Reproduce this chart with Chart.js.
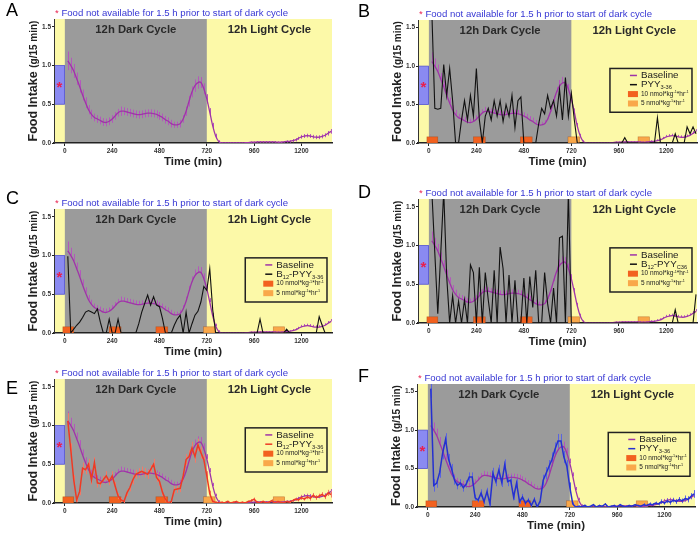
<!DOCTYPE html>
<html>
<head>
<meta charset="utf-8">
<script src="https://cdn.jsdelivr.net/npm/chart.js@4"></script>
<style>
  html, body { margin: 0; padding: 0; background: #fff; }
  #wrap { position: relative; width: 700px; height: 534px; }
  #wrap canvas { position: absolute; left: 0; top: 0; }
</style>
</head>
<body>
<div id="wrap">
  <canvas id="pA" width="700" height="534"></canvas>
  <canvas id="pB" width="700" height="534"></canvas>
  <canvas id="pC" width="700" height="534"></canvas>
  <canvas id="pD" width="700" height="534"></canvas>
  <canvas id="pE" width="700" height="534"></canvas>
  <canvas id="pF" width="700" height="534"></canvas>
</div>
<script>
// time bins (min) - 15 min food intake
const times = [
  15, 30, 45, 60, 75, 90, 105, 120, 135, 150,
  165, 180, 195, 210, 225, 240, 255, 270, 285, 300,
  315, 330, 345, 360, 375, 390, 405, 420, 435, 450,
  465, 480, 495, 510, 525, 540, 555, 570, 585, 600,
  615, 630, 645, 660, 675, 690, 705, 720, 735, 750,
  765, 780, 795, 810, 825, 840, 855, 870, 885, 900,
  915, 930, 945, 960, 975, 990, 1005, 1020, 1035, 1050,
  1065, 1080, 1095, 1110, 1125, 1140, 1155, 1170, 1185, 1200,
  1215, 1230, 1245, 1260, 1275, 1290, 1305, 1320, 1335, 1350
];

const baseline = [
  1.06, 1.00, 0.93, 0.83, 0.73, 0.62, 0.52, 0.43, 0.37, 0.33,
  0.31, 0.29, 0.27, 0.265, 0.28, 0.31, 0.35, 0.39, 0.41, 0.41,
  0.40, 0.39, 0.38, 0.37, 0.365, 0.37, 0.38, 0.385, 0.385, 0.38,
  0.37, 0.35, 0.33, 0.30, 0.28, 0.25, 0.235, 0.235, 0.25, 0.31,
  0.41, 0.54, 0.66, 0.74, 0.78, 0.78, 0.70, 0.57, 0.40, 0.22,
  0.09, 0.02, 0, 0, 0, 0, 0, 0, 0, 0,
  0.005, 0.005, 0.01, 0.01, 0.015, 0.015, 0.015, 0.015, 0.015, 0.015,
  0.015, 0.01, 0.01, 0.015, 0.02, 0.02, 0.03, 0.04, 0.06, 0.08,
  0.09, 0.095, 0.09, 0.08, 0.075, 0.075, 0.085, 0.10, 0.125, 0.15
];
const baselineErr = [
  0.12, 0.10, 0.09, 0.08, 0.08, 0.07, 0.07, 0.06, 0.06, 0.05,
  0.05, 0.05, 0.05, 0.05, 0.05, 0.05, 0.05, 0.05, 0.06, 0.05,
  0.05, 0.05, 0.05, 0.05, 0.05, 0.05, 0.05, 0.05, 0.05, 0.05,
  0.05, 0.05, 0.05, 0.05, 0.05, 0.05, 0.04, 0.04, 0.05, 0.05,
  0.06, 0.07, 0.07, 0.08, 0.08, 0.07, 0.07, 0.06, 0.05, 0.04,
  0.03, 0.015, 0.005, 0.005, 0.005, 0.005, 0.005, 0.005, 0.005, 0.005,
  0.005, 0.005, 0.01, 0.01, 0.01, 0.01, 0.01, 0.01, 0.01, 0.01,
  0.01, 0.01, 0.01, 0.01, 0.015, 0.015, 0.02, 0.02, 0.02, 0.025,
  0.025, 0.025, 0.025, 0.025, 0.025, 0.025, 0.025, 0.025, 0.03, 0.03
];

// B: PYY3-36
const pyyB = [
  1.7, 0.45, 0.44, 0.45, 1.02, 0.62, 0.97, 0.55, 0, 0,
  0.3, 0.55, 0.3, 0.62, 0.35, 0.97, 0.3, 0, 0.35, 0.45,
  0.3, 0.55, 0.35, 0.55, 0.28, 0.5, 0.35, 0.62, 0.2, 0.55,
  0.6, 0, 0, 0, 0, 0, 0.25, 0.45, 0.38, 0.62,
  0.45, 0.55, 0.35, 0.7, 0.3, 0.85, 0.35, 0.65, 0.3, 0,
  0, 0, 0, 0, 0, 0, 0, 0, 0, 0,
  0, 0, 0, 0, 0, 0.07, 0, 0, 0, 0,
  0, 0, 0, 0, 0, 0, 0.33, 0, 0, 0,
  0, 0, 0.12, 0, 0, 0, 0.21, 0.12, 0.21, 0.12
];
// C: B12-PYY3-36
const b12pyyC = [
  0.99, 0, 0.05, 0.1, 0.14, 0.2, 0.27, 0.29, 0.27, 0.25,
  0.31, 0.14, 0, 0, 0.18, 0, 0, 0.18, 0, 0,
  0, 0, 0, 0, 0.12, 0.27, 0.38, 0.49, 0.36, 0.47,
  0.36, 0.34, 0.19, 0, 0, 0, 0.1, 0.18, 0.23, 0,
  0.27, 0, 0.12, 0.23, 0.28, 0.40, 0.60, 0.55, 0.83, 0.30,
  0, 0, 0, 0, 0, 0, 0, 0, 0, 0,
  0, 0, 0, 0, 0, 0.18, 0, 0, 0, 0,
  0, 0, 0, 0, 0.05, 0, 0, 0, 0, 0,
  0, 0, 0, 0, 0, 0.21, 0.1, 0, 0, 0
];
// D: B12-PYYC36
const b12pyyC36D = [
  1.7, 0.9, 0.12, 0.9, 1.7, 0.6, 0, 0.35, 0, 0.28,
  0, 0.3, 0, 0.75, 0.65, 0, 0.72, 0, 0.65, 0.3,
  0, 0.68, 0, 0.98, 0.7, 0, 0.62, 0, 0.55, 0,
  0, 0.58, 0, 0.6, 0.2, 0.68, 0, 0, 0.65, 0.25,
  0, 0.45, 0, 1.1, 1.12, 0, 1.7, 0, 0, 0,
  0, 0, 0, 0, 0, 0, 0, 0, 0, 0,
  0, 0, 0, 0, 0, 0, 0, 0, 0, 0,
  0, 0, 0, 0, 0, 0, 0, 0, 0, 0,
  0, 0, 0.17, 0, 0, 0, 0, 0, 0, 0.37
];
// E: B12-PYY3-36 (mean +/- sem)
const b12pyyE = [
  1.06, 0.69, 0.3, 0.04, 0.15, 0.45, 0.43, 0.5, 0.3, 0.52,
  0.26, 0.25, 0.3, 0.35, 0.28, 0.35, 0.22, 0.09, 0.04, 0.02,
  0.13, 0.2, 0.3, 0.37, 0.39, 0.41, 0.39, 0.37, 0.43, 0.5,
  0.33, 0.28, 0.14, 0.05, 0, 0.02, 0.17, 0.18, 0.19, 0.35,
  0.56, 0.6, 0.71, 0.6, 0.75, 0.65, 0.56, 0.35, 0.12, 0.02,
  0.01, 0, 0.01, 0, 0.02, 0, 0.01, 0.02, 0, 0.01,
  0, 0.02, 0.03, 0.05, 0.01, 0, 0.02, 0, 0.01, 0.03,
  0, 0.02, 0.01, 0, 0.02, 0.01, 0.03, 0.05, 0.04, 0.07,
  0.05, 0.08, 0.06, 0.1, 0.07, 0.09, 0.11, 0.08, 0.13, 0.11
];
const b12pyyEErr = [
  0.1, 0.08, 0.06, 0.03, 0.05, 0.07, 0.06, 0.07, 0.06, 0.07,
  0.06, 0.05, 0.05, 0.06, 0.05, 0.06, 0.05, 0.04, 0.03, 0.02,
  0.04, 0.05, 0.06, 0.06, 0.06, 0.06, 0.06, 0.06, 0.06, 0.07,
  0.06, 0.06, 0.05, 0.03, 0.02, 0.02, 0.05, 0.05, 0.05, 0.06,
  0.07, 0.08, 0.08, 0.08, 0.08, 0.08, 0.07, 0.06, 0.04, 0.02,
  0.01, 0.01, 0.01, 0.01, 0.01, 0.01, 0.01, 0.01, 0.01, 0.01,
  0.01, 0.01, 0.02, 0.02, 0.01, 0.01, 0.01, 0.01, 0.01, 0.02,
  0.01, 0.01, 0.01, 0.01, 0.01, 0.01, 0.02, 0.02, 0.02, 0.03,
  0.02, 0.03, 0.03, 0.03, 0.03, 0.03, 0.03, 0.03, 0.04, 0.04
];
// F: PYY3-36 (mean +/- sem)
const pyyF = [
  1.54, 0.28, 0.31, 0.45, 0.7, 0.88, 0.62, 0.5, 0.35, 0.28,
  0.31, 0.25, 0.3, 0.39, 0.39, 0.12, 0.09, 0.18, 0.07, 0.2,
  0.04, 0.44, 0.33, 0.48, 0.32, 0.55, 0.33, 0.35, 0.13, 0.31,
  0.07, 0.13, 0.05, 0.09, 0.02, 0.1, 0, 0.08, 0.35, 0.44,
  0.53, 0.62, 0.75, 0.86, 0.86, 0.65, 0.53, 0.26, 0.04, 0,
  0.01, 0, 0.02, 0, 0.01, 0.03, 0, 0.02, 0.01, 0.04,
  0, 0.01, 0.02, 0, 0.03, 0.01, 0, 0.02, 0.01, 0.03,
  0.02, 0.01, 0.03, 0.02, 0.04, 0.03, 0.05, 0.04, 0.07, 0.05,
  0.08, 0.06, 0.09, 0.07, 0.1, 0.08, 0.11, 0.1, 0.14, 0.17
];
const pyyFErr = [
  0.12, 0.08, 0.06, 0.07, 0.08, 0.08, 0.07, 0.06, 0.06, 0.05,
  0.05, 0.05, 0.05, 0.06, 0.06, 0.04, 0.03, 0.05, 0.03, 0.05,
  0.02, 0.07, 0.06, 0.07, 0.06, 0.07, 0.06, 0.06, 0.04, 0.06,
  0.03, 0.04, 0.03, 0.03, 0.02, 0.03, 0.01, 0.03, 0.07, 0.08,
  0.08, 0.09, 0.09, 0.09, 0.09, 0.08, 0.08, 0.06, 0.02, 0.01,
  0.01, 0.01, 0.01, 0.01, 0.01, 0.01, 0.01, 0.01, 0.01, 0.01,
  0.01, 0.01, 0.01, 0.01, 0.01, 0.01, 0.01, 0.01, 0.01, 0.01,
  0.01, 0.01, 0.02, 0.01, 0.02, 0.02, 0.02, 0.02, 0.03, 0.02,
  0.03, 0.03, 0.03, 0.03, 0.03, 0.03, 0.04, 0.04, 0.04, 0.05
];

const xTicks = [0, 240, 480, 720, 960, 1200];
const yTicks = [0, 0.5, 1.0, 1.5];
const darkCycle = [0, 720];
const fastingBand = [0.5, 1.0];          // blue "food not available" box
const doseHigh = [[-10, 45], [225, 285], [462, 522]];   // 10 nmol/kg/hr
const doseLow = [[703, 762], [1057, 1115]];             // 5 nmol/kg/hr
const doseHeight = 0.08;

const FONT = '"Liberation Sans", Arial, Helvetica, sans-serif';
const COL = {
  yellow: '#fcf9a8', grey: '#9b9b9b', blue: '#8a8af2', blueEdge: '#5454d2',
  star: '#e8204e', note: '#3737d4', purple: '#9f34a8', purpleErr: '#b458bc',
  high: '#f2611f', low: '#f9a84a', text: '#222'
};
const Y_W = 20, X_H = 12;

const panels = [
  { id: 'A', area: [54, 19, 332, 143], letter: [6, 11], errBoth: true },
  { id: 'B', area: [418, 20, 697, 143], letter: [358, 12], series: pyyB,
    name: [['PYY', 0], ['3-36', 1]], color: '#111' },
  { id: 'C', area: [54, 209, 332, 333], letter: [6, 199], series: b12pyyC,
    name: [['B', 0], ['12', 1], ['-PYY', 0], ['3-36', 1]], color: '#111' },
  { id: 'D', area: [418, 199, 697, 323], letter: [358, 193], series: b12pyyC36D,
    name: [['B', 0], ['12', 1], ['-PYY', 0], ['C36', 1]], color: '#111' },
  { id: 'E', area: [54, 379, 332, 503], letter: [6, 389], series: b12pyyE, err: b12pyyEErr,
    name: [['B', 0], ['12', 1], ['-PYY', 0], ['3-36', 1]], color: '#ee3a24', errColor: '#f27a68', width: 1.5 },
  { id: 'F', area: [417, 384, 695, 507], letter: [358, 377], series: pyyF, err: pyyFErr,
    name: [['PYY', 0], ['3-36', 1]], color: '#2430d0', errColor: '#5a64e0', width: 1.5 }
];

// draw text made of parts: kind 0 normal, 1 subscript, 2 superscript
function drawRich(ctx, parts, x, y, size, weight, color) {
  let cx = x;
  ctx.fillStyle = color;
  ctx.textAlign = 'left';
  ctx.textBaseline = 'middle';
  for (const [t, k] of parts) {
    const s = k ? size * 0.58 : size;
    ctx.font = `${weight} ${s}px ${FONT}`;
    const dy = k === 1 ? size * 0.3 : (k === 2 ? -size * 0.32 : 0);
    ctx.fillText(t, cx, y + dy);
    cx += ctx.measureText(t).width;
  }
  return cx - x;
}

function drawErrors(ctx, xs, ys, vals, errs, color, both) {
  ctx.strokeStyle = color;
  ctx.lineWidth = 1;
  ctx.beginPath();
  vals.forEach((v, i) => {
    const px = Math.round(xs.getPixelForValue(times[i])) + 0.5;
    ctx.moveTo(px, ys.getPixelForValue(v + errs[i]));
    ctx.lineTo(px, ys.getPixelForValue(both ? v - errs[i] : v));
  });
  ctx.stroke();
}

function panelPlugin(p) {
  return {
    id: 'panel' + p.id,
    beforeDraw(chart) {
      const { ctx, chartArea: a, scales: { x, y } } = chart;
      ctx.save();
      ctx.fillStyle = COL.yellow;
      ctx.fillRect(a.left, a.top, a.width, a.height);
      const x0 = x.getPixelForValue(darkCycle[0]), x1 = x.getPixelForValue(darkCycle[1]);
      ctx.fillStyle = COL.grey;
      ctx.fillRect(x0, a.top, x1 - x0, a.height);
      const yb1 = y.getPixelForValue(fastingBand[1]), yb0 = y.getPixelForValue(fastingBand[0]);
      ctx.fillStyle = COL.blue;
      ctx.fillRect(a.left, yb1, x0 - a.left, yb0 - yb1);
      ctx.strokeStyle = COL.blueEdge;
      ctx.lineWidth = 0.8;
      ctx.strokeRect(a.left + 0.4, yb1, x0 - a.left - 0.8, yb0 - yb1);
      ctx.fillStyle = COL.star;
      ctx.font = `bold 15px ${FONT}`;
      ctx.textAlign = 'center';
      ctx.textBaseline = 'middle';
      ctx.fillText('*', (a.left + x0) / 2, (yb0 + yb1) / 2 + 3);
      ctx.restore();
    },
    beforeDatasetsDraw(chart) {
      const { ctx, chartArea: a, scales: { x, y } } = chart;
      ctx.save();
      ctx.beginPath();
      ctx.rect(a.left, a.top, a.width, a.height);
      ctx.clip();
      if (p.series) {
        const yTop = y.getPixelForValue(doseHeight), yBot = y.getPixelForValue(0);
        const box = (r, c) => {
          const l = x.getPixelForValue(r[0]), rr = x.getPixelForValue(r[1]);
          ctx.fillStyle = c;
          ctx.fillRect(l, yTop, rr - l, yBot - yTop);
          ctx.strokeStyle = 'rgba(150,60,10,0.5)';
          ctx.lineWidth = 0.6;
          ctx.strokeRect(l, yTop, rr - l, yBot - yTop);
        };
        doseHigh.forEach(r => box(r, COL.high));
        doseLow.forEach(r => box(r, COL.low));
      }
      drawErrors(ctx, x, y, baseline, baselineErr, COL.purpleErr, !!p.errBoth);
      if (p.err) drawErrors(ctx, x, y, p.series, p.err, p.errColor, true);
      ctx.restore();
    },
    afterDraw(chart) {
      const { ctx, chartArea: a, scales: { x, y } } = chart;
      ctx.save();
      // cycle labels
      ctx.fillStyle = '#2a2a2a';
      ctx.font = `bold 11.3px ${FONT}`;
      ctx.textAlign = 'center';
      ctx.textBaseline = 'middle';
      ctx.fillText('12h Dark Cycle', x.getPixelForValue((darkCycle[0] + darkCycle[1]) / 2), a.top + 11);
      ctx.fillText('12h Light Cycle', (x.getPixelForValue(darkCycle[1]) + a.right) / 2, a.top + 11);
      // note above
      ctx.textAlign = 'left';
      ctx.font = `9.6px ${FONT}`;
      ctx.fillStyle = COL.star;
      ctx.fillText('*', a.left + 1, a.top - 6);
      const sw = ctx.measureText('* ').width;
      ctx.fillStyle = COL.note;
      ctx.fillText('Food not available for 1.5 h prior to start of dark cycle', a.left + 1 + sw, a.top - 6);
      // panel letter
      ctx.fillStyle = '#000';
      ctx.font = `18px ${FONT}`;
      ctx.fillText(p.id, p.letter[0], p.letter[1]);
      // x title
      ctx.textAlign = 'center';
      ctx.fillStyle = COL.text;
      ctx.font = `bold 11.5px ${FONT}`;
      ctx.fillText('Time (min)', (a.left + a.right) / 2, a.bottom + 19);
      // y title (rotated)
      ctx.save();
      ctx.translate(a.left - 20, (a.top + a.bottom) / 2);
      ctx.rotate(-Math.PI / 2);
      ctx.font = `bold 12.5px ${FONT}`;
      const w1 = ctx.measureText('Food Intake ').width;
      ctx.font = `bold 10px ${FONT}`;
      const w2 = ctx.measureText('(g/15 min)').width;
      ctx.textAlign = 'left';
      ctx.font = `bold 12.5px ${FONT}`;
      ctx.fillText('Food Intake ', -(w1 + w2) / 2, 0);
      ctx.font = `bold 10px ${FONT}`;
      ctx.fillText('(g/15 min)', -(w1 + w2) / 2 + w1, 0);
      ctx.restore();
      // legend
      if (p.series) {
        const bx = a.left + 0.688 * a.width, bw = 0.294 * a.width;
        const by = a.top + 0.394 * a.height, bh = 0.356 * a.height;
        ctx.fillStyle = COL.yellow;
        ctx.fillRect(bx, by, bw, bh);
        ctx.strokeStyle = '#222';
        ctx.lineWidth = 1.5;
        ctx.strokeRect(bx, by, bw, bh);
        const rows = [0.16, 0.37, 0.585, 0.8].map(f => by + f * bh);
        const dash = (yy, c) => {
          ctx.strokeStyle = c; ctx.lineWidth = 1.5;
          ctx.beginPath(); ctx.moveTo(bx + 20, yy); ctx.lineTo(bx + 27, yy); ctx.stroke();
        };
        dash(rows[0], COL.purple);
        drawRich(ctx, [['Baseline', 0]], bx + 31, rows[0], 9.8, 'normal', COL.text);
        dash(rows[1], p.color);
        drawRich(ctx, p.name, bx + 31, rows[1], 9.8, 'normal', COL.text);
        ctx.fillStyle = COL.high;
        ctx.fillRect(bx + 18, rows[2] - 3, 10, 6);
        ctx.fillStyle = COL.low;
        ctx.fillRect(bx + 18, rows[3] - 3, 10, 6);
        drawRich(ctx, [['10 nmol*kg', 0], ['-1', 2], ['*hr', 0], ['-1', 2]], bx + 31, rows[2], 6.5, 'normal', COL.text);
        drawRich(ctx, [['5 nmol*kg', 0], ['-1', 2], ['*hr', 0], ['-1', 2]], bx + 31, rows[3], 6.5, 'normal', COL.text);
      }
      ctx.restore();
    }
  };
}

const tickFont = { family: FONT, size: 6.5, weight: 'bold' };

panels.forEach(p => {
  const [L, T, R, B] = p.area;
  const datasets = [{
    label: 'Baseline',
    data: times.map((t, i) => ({ x: t, y: baseline[i] })),
    borderColor: COL.purple,
    borderWidth: 1.3,
    tension: 0.35,
    pointRadius: 0,
    order: 2
  }];
  if (p.series) {
    datasets.push({
      label: 'Treatment',
      data: times.map((t, i) => ({ x: t, y: p.series[i] })),
      borderColor: p.color,
      borderWidth: p.width || 1.1,
      tension: 0,
      pointRadius: 0,
      order: 1
    });
  }
  new Chart(document.getElementById('p' + p.id), {
    type: 'line',
    data: { datasets },
    options: {
      responsive: false,
      animation: false,
      events: [],
      layout: { padding: { left: L - Y_W, top: T, right: 700 - R, bottom: 534 - B - X_H } },
      plugins: { legend: { display: false }, tooltip: { enabled: false } },
      scales: {
        x: {
          type: 'linear', min: -55, max: 1355,
          afterBuildTicks: s => { s.ticks = xTicks.map(v => ({ value: v })); },
          afterFit: s => { s.height = X_H; },
          grid: { drawOnChartArea: false, drawTicks: true, tickLength: 3, color: '#222' },
          border: { display: true, color: '#222', width: 1.5 },
          ticks: { font: tickFont, color: '#333', padding: 1, maxRotation: 0, autoSkip: false,
                   callback: v => String(v) }
        },
        y: {
          min: 0, max: 1.6,
          afterBuildTicks: s => { s.ticks = yTicks.map(v => ({ value: v })); },
          afterFit: s => { s.width = Y_W; },
          grid: { drawOnChartArea: false, drawTicks: true, tickLength: 2, color: '#222' },
          border: { display: true, color: '#333', width: 1 },
          ticks: { font: tickFont, color: '#333', padding: 1, callback: v => Number(v).toFixed(1) }
        }
      }
    },
    plugins: [panelPlugin(p)]
  });
});
</script>
</body>
</html>
